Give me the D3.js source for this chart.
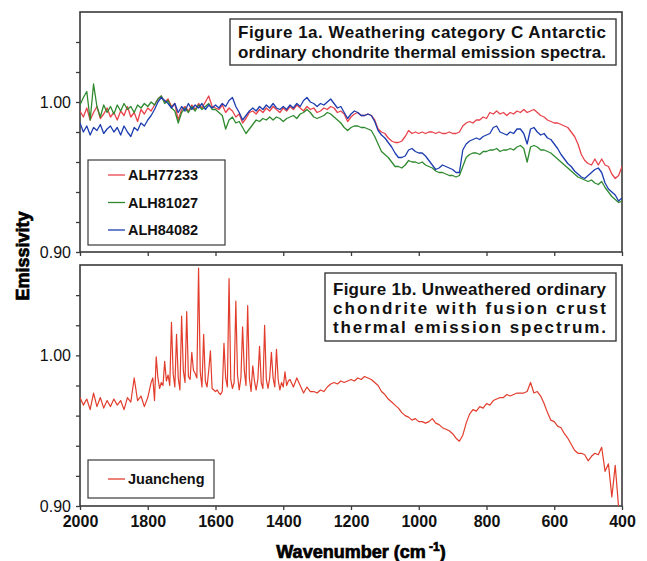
<!DOCTYPE html>
<html>
<head>
<meta charset="utf-8">
<script src="https://cdn.jsdelivr.net/npm/d3@7"></script>
<style>
  body { margin: 0; background: #fff; }
  text { font-family: "Liberation Sans", Arial, sans-serif; }
</style>
</head>
<body>
<svg id="chart" width="647" height="561"></svg>
<script>
// wavenumber grid of the three weathered spectra (cm-1)
const waveTop = d3.range(2000, 399, -10)

const alh77233 = [
    0.994, 0.990, 0.996, 0.988, 0.993, 0.997, 0.989, 0.992, 0.996, 0.990,
    0.993, 0.988, 0.994, 0.991, 0.997, 0.990, 0.993, 0.987, 0.995, 0.992,
    0.996, 0.994, 0.998, 1.002, 1.004, 1.000, 1.002, 0.997, 0.999, 0.988,
    0.995, 0.997, 0.994, 0.998, 0.995, 0.999, 0.996, 1.000, 1.004, 0.997,
    0.996, 0.995, 0.998, 0.993, 0.996, 0.994, 0.990, 0.992, 0.986, 0.989,
    0.993, 0.994, 0.992, 0.995, 0.993, 0.996, 0.994, 0.997, 0.995, 0.993,
    0.996, 0.994, 0.997, 0.995, 0.998, 0.996, 0.994, 0.997, 0.995, 0.996,
    0.993, 0.994, 0.996, 0.995, 0.997, 0.996, 0.993, 0.994, 0.992, 0.987,
    0.990, 0.992, 0.993, 0.991, 0.991, 0.992, 0.991, 0.988, 0.982, 0.980,
    0.979, 0.976, 0.974, 0.973, 0.973, 0.974, 0.977, 0.981, 0.979, 0.980,
    0.979, 0.980, 0.979, 0.980, 0.980, 0.979, 0.980, 0.979, 0.979, 0.980,
    0.979, 0.979, 0.980, 0.984, 0.986, 0.987, 0.986, 0.988, 0.988, 0.990,
    0.989, 0.993, 0.992, 0.994, 0.992, 0.993, 0.991, 0.993, 0.992, 0.994,
    0.993, 0.995, 0.993, 0.994, 0.995, 0.993, 0.991, 0.990, 0.988, 0.987,
    0.986, 0.986, 0.985, 0.984, 0.983, 0.980, 0.977, 0.972, 0.965, 0.961,
    0.959, 0.958, 0.962, 0.958, 0.962, 0.958, 0.957, 0.952, 0.949, 0.951,
    0.957
]

const alh81027 = [
    0.998, 1.003, 1.007, 0.988, 1.012, 0.997, 0.990, 0.998, 0.993, 0.997,
    0.992, 0.998, 0.994, 0.999, 0.995, 0.997, 0.993, 0.998, 0.996, 0.999,
    0.997, 1.000, 0.998, 1.002, 1.004, 0.999, 1.001, 0.996, 0.994, 0.986,
    0.993, 0.996, 0.993, 0.997, 0.994, 0.998, 0.995, 0.997, 0.999, 0.995,
    0.995, 0.993, 0.991, 0.982, 0.988, 0.990, 0.986, 0.987, 0.983, 0.979,
    0.982, 0.985, 0.988, 0.987, 0.989, 0.988, 0.990, 0.988, 0.990, 0.989,
    0.987, 0.989, 0.990, 0.991, 0.989, 0.992, 0.993, 0.995, 0.993, 0.990,
    0.989, 0.990, 0.991, 0.993, 0.992, 0.990, 0.988, 0.986, 0.983, 0.981,
    0.983, 0.984, 0.984, 0.983, 0.983, 0.982, 0.981, 0.977, 0.972, 0.967,
    0.965, 0.963, 0.960, 0.957, 0.957, 0.956, 0.958, 0.961, 0.960, 0.960,
    0.959, 0.960, 0.958, 0.957, 0.956, 0.954, 0.953, 0.953, 0.952, 0.951,
    0.951, 0.950, 0.951, 0.957, 0.963, 0.965, 0.966, 0.966, 0.965, 0.967,
    0.967, 0.968, 0.968, 0.969, 0.967, 0.968, 0.968, 0.969, 0.968, 0.970,
    0.971, 0.969, 0.960, 0.970, 0.971, 0.970, 0.968, 0.968, 0.967, 0.966,
    0.964, 0.962, 0.960, 0.958, 0.956, 0.954, 0.952, 0.950, 0.949, 0.948,
    0.947, 0.948, 0.946, 0.945, 0.947, 0.943, 0.940, 0.937, 0.935, 0.933,
    0.934
]

const alh84082 = [
    0.986, 0.980, 0.984, 0.978, 0.983, 0.981, 0.985, 0.979, 0.982, 0.984,
    0.980, 0.983, 0.978, 0.984, 0.980, 0.977, 0.983, 0.981, 0.986, 0.984,
    0.988, 0.991, 0.995, 1.000, 1.003, 1.001, 0.999, 0.996, 0.999, 0.993,
    0.997, 0.994, 0.999, 0.995, 0.998, 0.996, 0.999, 0.995, 0.998, 0.996,
    0.998, 0.996, 0.999, 0.997, 1.001, 1.003, 0.997, 0.993, 0.988, 0.991,
    0.994, 0.996, 0.994, 0.997, 0.995, 0.998, 0.996, 0.999, 0.996, 0.995,
    0.997, 0.995, 0.998, 0.996, 0.999, 0.997, 1.001, 1.003, 1.000, 0.999,
    0.997, 0.999, 0.998, 1.000, 1.002, 0.999, 0.996, 0.997, 0.993, 0.989,
    0.992, 0.994, 0.993, 0.991, 0.991, 0.992, 0.991, 0.987, 0.981, 0.978,
    0.976, 0.973, 0.970, 0.966, 0.963, 0.963, 0.964, 0.968, 0.969, 0.967,
    0.966, 0.966, 0.964, 0.961, 0.958, 0.955, 0.956, 0.958, 0.957, 0.956,
    0.955, 0.953, 0.953, 0.968, 0.972, 0.974, 0.975, 0.976, 0.975, 0.977,
    0.978, 0.979, 0.983, 0.984, 0.980, 0.979, 0.978, 0.980, 0.979, 0.982,
    0.982, 0.979, 0.972, 0.982, 0.983, 0.980, 0.978, 0.979, 0.976, 0.975,
    0.972, 0.969, 0.965, 0.962, 0.959, 0.957, 0.954, 0.952, 0.950, 0.949,
    0.951, 0.953, 0.955, 0.956, 0.953, 0.946, 0.942, 0.940, 0.938, 0.934,
    0.936
]

// Juancheng is sampled finer where the sharp bands are
const waveJc = d3.range(2000, 1800, -10).concat(d3.range(1800, 1380, -5), d3.range(1380, 399, -10))

const juancheng = [
    // 2000 - 1810
    0.972, 0.967, 0.971, 0.964, 0.975, 0.966, 0.972, 0.965, 0.970, 0.966,
    0.971, 0.967, 0.970, 0.964, 0.972, 0.969, 0.985, 0.970, 0.973, 0.966,
    // 1800 - 1385, every 5
    0.972, 0.977, 0.982, 0.985, 0.970, 0.999, 0.985, 0.978, 0.982, 0.980,
    0.996, 0.983, 0.987, 0.980, 1.022, 0.988, 0.979, 1.014, 0.985, 0.977,
    1.026, 0.990, 0.982, 1.029, 0.986, 0.984, 1.002, 0.990, 0.988, 0.985,
    1.058, 0.989, 0.979, 1.014, 0.983, 0.979, 0.990, 1.003, 0.978, 0.977,
    0.976, 0.977, 0.975, 0.974, 0.976, 1.008, 0.985, 0.979, 1.051, 0.984,
    0.978, 0.982, 1.036, 0.987, 0.977, 0.985, 1.019, 0.990, 0.980, 1.033,
    0.985, 0.976, 0.993, 0.983, 0.977, 0.984, 1.006, 0.982, 0.978, 1.020,
    0.984, 0.978, 0.985, 1.002, 0.985, 0.979, 1.004, 0.984, 0.977, 0.982,
    0.979, 0.989, 0.980, 0.983,
    // 1380 - 400
    0.984, 0.979, 0.985, 0.980, 0.975, 0.979, 0.976, 0.976, 0.975, 0.977,
    0.976, 0.979, 0.981, 0.982, 0.981, 0.983, 0.982, 0.983, 0.984, 0.983,
    0.985, 0.984, 0.986, 0.985, 0.984, 0.982, 0.980, 0.976, 0.974, 0.971,
    0.969, 0.967, 0.965, 0.962, 0.960, 0.959, 0.957, 0.958, 0.956, 0.956,
    0.955, 0.956, 0.958, 0.955, 0.954, 0.952, 0.951, 0.950, 0.948, 0.945,
    0.943, 0.947, 0.955, 0.961, 0.964, 0.963, 0.966, 0.965, 0.968, 0.967,
    0.970, 0.971, 0.972, 0.972, 0.974, 0.973, 0.974, 0.975, 0.975, 0.975,
    0.976, 0.982, 0.975, 0.976, 0.973, 0.968, 0.962, 0.957, 0.956, 0.953,
    0.952, 0.948, 0.945, 0.941, 0.937, 0.935, 0.935, 0.934, 0.930, 0.933,
    0.935, 0.934, 0.939, 0.923, 0.928, 0.906, 0.927, 0.899, 0.896
]

const xTicks = [2000, 1800, 1600, 1400, 1200, 1000, 800, 600, 400]
const yTicks = [0.90, 0.92, 0.94, 0.96, 0.98, 1.00, 1.02, 1.04]
const yLabelled = [0.90, 1.00]

const topSeries = [
    { name: "ALH77233", values: alh77233, color: "#e8434b" },
    { name: "ALH81027", values: alh81027, color: "#2f8a2f" },
    { name: "ALH84082", values: alh84082, color: "#1c3daf" }
]
const jcColor = "#e23d2c"

const svg = d3.select("#chart")
const left = 80, right = 622

const x = d3.scaleLinear().domain([2000, 400]).range([left, right])
const yTop = d3.scaleLinear().domain([0.90, 1.06]).range([252, 12])
const yBot = d3.scaleLinear().domain([0.90, 1.06]).range([506, 265])

const frameColor = "#3a3a3a"

function drawPanel(y, id, showXLabels) {
    const [y0, y1] = y.range()

    svg.append("clipPath").attr("id", id)
        .append("rect")
        .attr("x", left).attr("y", y1)
        .attr("width", right - left).attr("height", y0 - y1)

    const yAxis = svg.append("g")
        .attr("transform", `translate(${left},0)`)
        .call(d3.axisLeft(y)
            .tickValues(yTicks)
            .tickSize(4)
            .tickPadding(5)
            .tickFormat(d => yLabelled.some(v => Math.abs(v - d) < 1e-6) ? d.toFixed(2) : ""))
    yAxis.select(".domain").remove()
    yAxis.selectAll("line").attr("stroke", frameColor).attr("stroke-width", 1.3)
    yAxis.selectAll("text").attr("font-size", 16).attr("fill", "#111")
        .style("font-family", "'Liberation Sans', Arial, sans-serif")

    const xAxis = svg.append("g")
        .attr("transform", `translate(0,${y0})`)
        .call(d3.axisBottom(x)
            .tickValues(xTicks)
            .tickSize(4)
            .tickPadding(6)
            .tickFormat(d => showXLabels ? d : ""))
    xAxis.select(".domain").remove()
    xAxis.selectAll("line").attr("stroke", frameColor).attr("stroke-width", 1.3)
    xAxis.selectAll("text").attr("font-size", 16).attr("font-weight", "bold").attr("fill", "#111")
        .style("font-family", "'Liberation Sans', Arial, sans-serif")

    svg.append("rect")
        .attr("x", left).attr("y", y1)
        .attr("width", right - left).attr("height", y0 - y1)
        .attr("fill", "none")
        .attr("stroke", frameColor)
        .attr("stroke-width", 1.6)
}

drawPanel(yTop, "clipTop", false)
drawPanel(yBot, "clipBot", true)

const lineTop = d3.line().x((d, i) => x(waveTop[i])).y(d => yTop(d))
const lineBot = d3.line().x((d, i) => x(waveJc[i])).y(d => yBot(d))

svg.append("g").attr("clip-path", "url(#clipTop)")
    .selectAll("path")
    .data(topSeries)
    .join("path")
    .attr("fill", "none")
    .attr("stroke", d => d.color)
    .attr("stroke-width", 1.3)
    .attr("stroke-linejoin", "round")
    .attr("d", d => lineTop(d.values))

svg.append("g").attr("clip-path", "url(#clipBot)")
    .append("path")
    .attr("fill", "none")
    .attr("stroke", jcColor)
    .attr("stroke-width", 1.2)
    .attr("stroke-linejoin", "round")
    .attr("d", lineBot(juancheng))

// boxed figure captions, justified like the original
function caption(bx, by, bw, bh, lines) {
    svg.append("rect")
        .attr("x", bx).attr("y", by).attr("width", bw).attr("height", bh)
        .attr("fill", "#fff").attr("stroke", frameColor).attr("stroke-width", 1.4)
    lines.forEach(l => {
        svg.append("text")
            .attr("x", bx + 8).attr("y", l.y)
            .attr("font-size", 17).attr("font-weight", "bold").attr("fill", "#111")
            .attr("textLength", bw - 18).attr("lengthAdjust", "spacing")
            .text(l.text)
    })
}

caption(230, 19, 386, 46, [
    { text: "Figure 1a.  Weathering category C Antarctic", y: 38 },
    { text: "ordinary chondrite thermal emission spectra.", y: 58 }
])
caption(325, 273, 291, 68, [
    { text: "Figure 1b.  Unweathered ordinary", y: 295 },
    { text: "chondrite with fusion crust", y: 314 },
    { text: "thermal emission spectrum.", y: 333 }
])

// legends
function legend(bx, by, bw, bh, items) {
    svg.append("rect")
        .attr("x", bx).attr("y", by).attr("width", bw).attr("height", bh)
        .attr("fill", "#fff").attr("stroke", frameColor).attr("stroke-width", 1.2)
    const g = svg.append("g")
    items.forEach(it => {
        g.append("line")
            .attr("x1", bx + 20).attr("x2", bx + 37)
            .attr("y1", it.y).attr("y2", it.y)
            .attr("stroke", it.color).attr("stroke-width", 1.3)
        g.append("text")
            .attr("x", bx + 40).attr("y", it.y + 5)
            .attr("font-size", 14.5).attr("font-weight", "bold").attr("fill", "#111")
            .text(it.name)
    })
}

legend(88, 160, 137, 85, topSeries.map((s, i) => ({ name: s.name, color: s.color, y: 175 + i * 27.5 })))
legend(88, 460, 126, 38, [{ name: "Juancheng", color: jcColor, y: 479 }])

// axis titles
svg.append("text")
    .attr("transform", "translate(29,256) rotate(-90)")
    .attr("text-anchor", "middle")
    .attr("font-size", 18).attr("font-weight", "bold")
    .attr("stroke", "#000").attr("stroke-width", 0.7)
    .text("Emissivity")

const xt = svg.append("text")
    .attr("x", 361).attr("y", 558)
    .attr("text-anchor", "middle")
    .attr("font-size", 18).attr("font-weight", "bold")
    .attr("stroke", "#000").attr("stroke-width", 0.7)
xt.append("tspan").text("Wavenumber (cm")
xt.append("tspan").attr("dy", -7).attr("font-size", 12).text(" -1")
xt.append("tspan").attr("dy", 7).text(")")
</script>
</body>
</html>
